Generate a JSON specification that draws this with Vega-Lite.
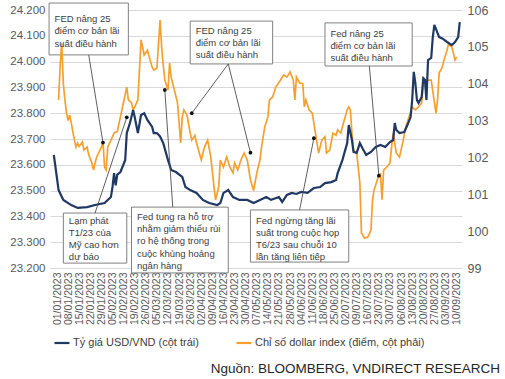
{
  "$schema": "https://vega.github.io/schema/vega-lite/v6.json",
  "width": 412,
  "height": 258,
  "autosize": {"type": "none"},
  "padding": {"left": 50, "top": 10, "right": 43, "bottom": 111},
  "config": {
    "view": {"stroke": null},
    "font": "Liberation Sans",
    "legend": {"padding": 0},
    "axisX": {"labelAngle": 270, "grid": false, "ticks": false, "domain": true, "domainColor": "#d9d9d9", "labelFontSize": 10.5, "labelColor": "#595959", "labelPadding": 4, "labelOverlap": false, "labelFlush": false, "labelFont": "Liberation Sans", "title": null}
  },
  "title": {
    "text": "Nguồn:  BLOOMBERG, VNDIRECT RESEARCH",
    "orient": "bottom",
    "anchor": "end",
    "frame": "group",
    "fontSize": 13.5,
    "fontWeight": "normal",
    "font": "Liberation Sans",
    "color": "#262626",
    "offset": 14,
    "dx": 38
  },
  "datasets": {
    "vnd": [
      {"date": "2022-12-30", "usd_vnd": 23638},
      {"date": "2023-01-02", "usd_vnd": 23502},
      {"date": "2023-01-05", "usd_vnd": 23464},
      {"date": "2023-01-10", "usd_vnd": 23444},
      {"date": "2023-01-14", "usd_vnd": 23433},
      {"date": "2023-01-20", "usd_vnd": 23436},
      {"date": "2023-01-25", "usd_vnd": 23444},
      {"date": "2023-01-31", "usd_vnd": 23452},
      {"date": "2023-02-04", "usd_vnd": 23475},
      {"date": "2023-02-05", "usd_vnd": 23514},
      {"date": "2023-02-06", "usd_vnd": 23568},
      {"date": "2023-02-07", "usd_vnd": 23520},
      {"date": "2023-02-08", "usd_vnd": 23562},
      {"date": "2023-02-10", "usd_vnd": 23572},
      {"date": "2023-02-13", "usd_vnd": 23618},
      {"date": "2023-02-14", "usd_vnd": 23723},
      {"date": "2023-02-16", "usd_vnd": 23762},
      {"date": "2023-02-18", "usd_vnd": 23812},
      {"date": "2023-02-19", "usd_vnd": 23785},
      {"date": "2023-02-21", "usd_vnd": 23723},
      {"date": "2023-02-23", "usd_vnd": 23793},
      {"date": "2023-02-25", "usd_vnd": 23800},
      {"date": "2023-02-27", "usd_vnd": 23774},
      {"date": "2023-03-02", "usd_vnd": 23747},
      {"date": "2023-03-03", "usd_vnd": 23723},
      {"date": "2023-03-05", "usd_vnd": 23723},
      {"date": "2023-03-07", "usd_vnd": 23710},
      {"date": "2023-03-09", "usd_vnd": 23684},
      {"date": "2023-03-12", "usd_vnd": 23618},
      {"date": "2023-03-14", "usd_vnd": 23580},
      {"date": "2023-03-17", "usd_vnd": 23572},
      {"date": "2023-03-21", "usd_vnd": 23553},
      {"date": "2023-03-23", "usd_vnd": 23514},
      {"date": "2023-03-26", "usd_vnd": 23502},
      {"date": "2023-03-30", "usd_vnd": 23491},
      {"date": "2023-04-03", "usd_vnd": 23464},
      {"date": "2023-04-07", "usd_vnd": 23452},
      {"date": "2023-04-12", "usd_vnd": 23444},
      {"date": "2023-04-14", "usd_vnd": 23452},
      {"date": "2023-04-16", "usd_vnd": 23491},
      {"date": "2023-04-19", "usd_vnd": 23502},
      {"date": "2023-04-22", "usd_vnd": 23475},
      {"date": "2023-04-26", "usd_vnd": 23464},
      {"date": "2023-05-01", "usd_vnd": 23464},
      {"date": "2023-05-05", "usd_vnd": 23452},
      {"date": "2023-05-09", "usd_vnd": 23464},
      {"date": "2023-05-13", "usd_vnd": 23475},
      {"date": "2023-05-16", "usd_vnd": 23464},
      {"date": "2023-05-21", "usd_vnd": 23475},
      {"date": "2023-05-23", "usd_vnd": 23456},
      {"date": "2023-05-26", "usd_vnd": 23483},
      {"date": "2023-05-29", "usd_vnd": 23491},
      {"date": "2023-06-01", "usd_vnd": 23487},
      {"date": "2023-06-04", "usd_vnd": 23495},
      {"date": "2023-06-08", "usd_vnd": 23491},
      {"date": "2023-06-12", "usd_vnd": 23510},
      {"date": "2023-06-16", "usd_vnd": 23514},
      {"date": "2023-06-19", "usd_vnd": 23529},
      {"date": "2023-06-23", "usd_vnd": 23533},
      {"date": "2023-06-26", "usd_vnd": 23541},
      {"date": "2023-06-27", "usd_vnd": 23568},
      {"date": "2023-06-30", "usd_vnd": 23618},
      {"date": "2023-07-03", "usd_vnd": 23684},
      {"date": "2023-07-04", "usd_vnd": 23754},
      {"date": "2023-07-06", "usd_vnd": 23696},
      {"date": "2023-07-07", "usd_vnd": 23650},
      {"date": "2023-07-09", "usd_vnd": 23646},
      {"date": "2023-07-11", "usd_vnd": 23684},
      {"date": "2023-07-13", "usd_vnd": 23660},
      {"date": "2023-07-15", "usd_vnd": 23638},
      {"date": "2023-07-18", "usd_vnd": 23650},
      {"date": "2023-07-21", "usd_vnd": 23669},
      {"date": "2023-07-24", "usd_vnd": 23677},
      {"date": "2023-07-27", "usd_vnd": 23669},
      {"date": "2023-07-30", "usd_vnd": 23688},
      {"date": "2023-08-01", "usd_vnd": 23696},
      {"date": "2023-08-02", "usd_vnd": 23762},
      {"date": "2023-08-03", "usd_vnd": 23735},
      {"date": "2023-08-05", "usd_vnd": 23723},
      {"date": "2023-08-08", "usd_vnd": 23727},
      {"date": "2023-08-10", "usd_vnd": 23754},
      {"date": "2023-08-12", "usd_vnd": 23785},
      {"date": "2023-08-13", "usd_vnd": 23851},
      {"date": "2023-08-14", "usd_vnd": 23960},
      {"date": "2023-08-15", "usd_vnd": 23917},
      {"date": "2023-08-16", "usd_vnd": 23851},
      {"date": "2023-08-17", "usd_vnd": 23840},
      {"date": "2023-08-19", "usd_vnd": 23863},
      {"date": "2023-08-20", "usd_vnd": 23936},
      {"date": "2023-08-21", "usd_vnd": 23930},
      {"date": "2023-08-22", "usd_vnd": 23851},
      {"date": "2023-08-23", "usd_vnd": 24006},
      {"date": "2023-08-25", "usd_vnd": 24014},
      {"date": "2023-08-26", "usd_vnd": 24095},
      {"date": "2023-08-27", "usd_vnd": 24142},
      {"date": "2023-08-30", "usd_vnd": 24095},
      {"date": "2023-09-01", "usd_vnd": 24090},
      {"date": "2023-09-04", "usd_vnd": 24076},
      {"date": "2023-09-07", "usd_vnd": 24064},
      {"date": "2023-09-09", "usd_vnd": 24076},
      {"date": "2023-09-11", "usd_vnd": 24095},
      {"date": "2023-09-12", "usd_vnd": 24153}
    ],
    "dxy": [
      {"date": "2023-01-02", "dxy": 103.56},
      {"date": "2023-01-03", "dxy": 104.5},
      {"date": "2023-01-04", "dxy": 105.1},
      {"date": "2023-01-05", "dxy": 104.0},
      {"date": "2023-01-06", "dxy": 103.56},
      {"date": "2023-01-07", "dxy": 103.2},
      {"date": "2023-01-08", "dxy": 103.0},
      {"date": "2023-01-09", "dxy": 103.15},
      {"date": "2023-01-10", "dxy": 102.93},
      {"date": "2023-01-12", "dxy": 102.47},
      {"date": "2023-01-13", "dxy": 102.28},
      {"date": "2023-01-14", "dxy": 102.39},
      {"date": "2023-01-15", "dxy": 102.3},
      {"date": "2023-01-17", "dxy": 102.42},
      {"date": "2023-01-18", "dxy": 102.2},
      {"date": "2023-01-20", "dxy": 102.28},
      {"date": "2023-01-21", "dxy": 102.07},
      {"date": "2023-01-23", "dxy": 101.85},
      {"date": "2023-01-24", "dxy": 101.66},
      {"date": "2023-01-25", "dxy": 101.85},
      {"date": "2023-01-26", "dxy": 102.01},
      {"date": "2023-01-27", "dxy": 102.1},
      {"date": "2023-01-29", "dxy": 102.28},
      {"date": "2023-01-30", "dxy": 102.42},
      {"date": "2023-01-31", "dxy": 101.74},
      {"date": "2023-02-01", "dxy": 101.66},
      {"date": "2023-02-02", "dxy": 102.28},
      {"date": "2023-02-04", "dxy": 102.47},
      {"date": "2023-02-06", "dxy": 102.66},
      {"date": "2023-02-08", "dxy": 102.7},
      {"date": "2023-02-10", "dxy": 103.1},
      {"date": "2023-02-14", "dxy": 103.91},
      {"date": "2023-02-15", "dxy": 103.56},
      {"date": "2023-02-17", "dxy": 103.48},
      {"date": "2023-02-18", "dxy": 103.29},
      {"date": "2023-02-19", "dxy": 103.37},
      {"date": "2023-02-21", "dxy": 103.56},
      {"date": "2023-02-22", "dxy": 104.37},
      {"date": "2023-02-23", "dxy": 105.19},
      {"date": "2023-02-25", "dxy": 104.78},
      {"date": "2023-02-27", "dxy": 104.91},
      {"date": "2023-03-02", "dxy": 104.45},
      {"date": "2023-03-03", "dxy": 104.37},
      {"date": "2023-03-05", "dxy": 104.42},
      {"date": "2023-03-07", "dxy": 105.73},
      {"date": "2023-03-08", "dxy": 105.0},
      {"date": "2023-03-09", "dxy": 104.5},
      {"date": "2023-03-10", "dxy": 104.1},
      {"date": "2023-03-12", "dxy": 103.83},
      {"date": "2023-03-13", "dxy": 104.56},
      {"date": "2023-03-14", "dxy": 104.18},
      {"date": "2023-03-16", "dxy": 103.83},
      {"date": "2023-03-18", "dxy": 103.48},
      {"date": "2023-03-20", "dxy": 102.39},
      {"date": "2023-03-21", "dxy": 103.1},
      {"date": "2023-03-22", "dxy": 103.29},
      {"date": "2023-03-24", "dxy": 103.15},
      {"date": "2023-03-26", "dxy": 102.66},
      {"date": "2023-03-27", "dxy": 102.47},
      {"date": "2023-03-29", "dxy": 102.6},
      {"date": "2023-03-30", "dxy": 102.39},
      {"date": "2023-04-02", "dxy": 101.93},
      {"date": "2023-04-04", "dxy": 102.28},
      {"date": "2023-04-06", "dxy": 102.47},
      {"date": "2023-04-08", "dxy": 102.01},
      {"date": "2023-04-09", "dxy": 101.6},
      {"date": "2023-04-10", "dxy": 101.2},
      {"date": "2023-04-11", "dxy": 100.85},
      {"date": "2023-04-13", "dxy": 101.2},
      {"date": "2023-04-14", "dxy": 101.93},
      {"date": "2023-04-16", "dxy": 101.74},
      {"date": "2023-04-18", "dxy": 102.01},
      {"date": "2023-04-20", "dxy": 101.74},
      {"date": "2023-04-22", "dxy": 101.58},
      {"date": "2023-04-23", "dxy": 101.85},
      {"date": "2023-04-25", "dxy": 101.66},
      {"date": "2023-04-27", "dxy": 101.93},
      {"date": "2023-04-29", "dxy": 102.12},
      {"date": "2023-05-01", "dxy": 101.93},
      {"date": "2023-05-03", "dxy": 101.39},
      {"date": "2023-05-05", "dxy": 101.1},
      {"date": "2023-05-07", "dxy": 101.58},
      {"date": "2023-05-09", "dxy": 101.93},
      {"date": "2023-05-10", "dxy": 102.28},
      {"date": "2023-05-12", "dxy": 102.83},
      {"date": "2023-05-14", "dxy": 103.1},
      {"date": "2023-05-15", "dxy": 103.56},
      {"date": "2023-05-17", "dxy": 103.64},
      {"date": "2023-05-19", "dxy": 103.91},
      {"date": "2023-05-22", "dxy": 104.1},
      {"date": "2023-05-24", "dxy": 104.24},
      {"date": "2023-05-26", "dxy": 104.18},
      {"date": "2023-05-28", "dxy": 104.32},
      {"date": "2023-05-30", "dxy": 104.1},
      {"date": "2023-05-31", "dxy": 103.56},
      {"date": "2023-06-01", "dxy": 104.18},
      {"date": "2023-06-03", "dxy": 104.02},
      {"date": "2023-06-05", "dxy": 104.0},
      {"date": "2023-06-06", "dxy": 103.37},
      {"date": "2023-06-07", "dxy": 103.56},
      {"date": "2023-06-09", "dxy": 103.29},
      {"date": "2023-06-11", "dxy": 103.2},
      {"date": "2023-06-14", "dxy": 102.39},
      {"date": "2023-06-15", "dxy": 102.12},
      {"date": "2023-06-17", "dxy": 102.47},
      {"date": "2023-06-19", "dxy": 102.56},
      {"date": "2023-06-20", "dxy": 102.12},
      {"date": "2023-06-22", "dxy": 102.2},
      {"date": "2023-06-24", "dxy": 102.66},
      {"date": "2023-06-26", "dxy": 102.6},
      {"date": "2023-06-27", "dxy": 102.75},
      {"date": "2023-06-29", "dxy": 102.66},
      {"date": "2023-06-30", "dxy": 102.83},
      {"date": "2023-07-03", "dxy": 103.29},
      {"date": "2023-07-04", "dxy": 103.37},
      {"date": "2023-07-05", "dxy": 103.29},
      {"date": "2023-07-06", "dxy": 102.66},
      {"date": "2023-07-07", "dxy": 102.2},
      {"date": "2023-07-09", "dxy": 102.12},
      {"date": "2023-07-11", "dxy": 101.31},
      {"date": "2023-07-12", "dxy": 99.95},
      {"date": "2023-07-14", "dxy": 99.81},
      {"date": "2023-07-16", "dxy": 99.84},
      {"date": "2023-07-18", "dxy": 100.03},
      {"date": "2023-07-19", "dxy": 100.85},
      {"date": "2023-07-20", "dxy": 101.12},
      {"date": "2023-07-22", "dxy": 101.39},
      {"date": "2023-07-23", "dxy": 101.52},
      {"date": "2023-07-24", "dxy": 101.55},
      {"date": "2023-07-25", "dxy": 100.85},
      {"date": "2023-07-26", "dxy": 101.66},
      {"date": "2023-07-28", "dxy": 101.74},
      {"date": "2023-07-30", "dxy": 101.85},
      {"date": "2023-07-31", "dxy": 102.28},
      {"date": "2023-08-01", "dxy": 102.66},
      {"date": "2023-08-02", "dxy": 102.39},
      {"date": "2023-08-03", "dxy": 102.12},
      {"date": "2023-08-05", "dxy": 102.01},
      {"date": "2023-08-07", "dxy": 102.39},
      {"date": "2023-08-09", "dxy": 102.83},
      {"date": "2023-08-11", "dxy": 103.1},
      {"date": "2023-08-13", "dxy": 103.37},
      {"date": "2023-08-15", "dxy": 103.29},
      {"date": "2023-08-17", "dxy": 103.37},
      {"date": "2023-08-19", "dxy": 103.48},
      {"date": "2023-08-20", "dxy": 104.02},
      {"date": "2023-08-21", "dxy": 104.1},
      {"date": "2023-08-23", "dxy": 104.1},
      {"date": "2023-08-25", "dxy": 104.1},
      {"date": "2023-08-28", "dxy": 103.2},
      {"date": "2023-08-29", "dxy": 103.56},
      {"date": "2023-08-30", "dxy": 104.29},
      {"date": "2023-09-01", "dxy": 104.45},
      {"date": "2023-09-02", "dxy": 104.64},
      {"date": "2023-09-04", "dxy": 104.91},
      {"date": "2023-09-05", "dxy": 105.1},
      {"date": "2023-09-07", "dxy": 104.99},
      {"date": "2023-09-08", "dxy": 104.83},
      {"date": "2023-09-09", "dxy": 104.64},
      {"date": "2023-09-10", "dxy": 104.72}
    ],
    "boxes": [
      {"x1": "2022-12-27", "x2": "2023-02-15", "y1": 24227, "y2": 24026, "ty": 24184, "label": "FED nâng 25\nđiểm cơ bản lãi\nsuất điều hành"},
      {"x1": "2023-03-26", "x2": "2023-05-17", "y1": 24157, "y2": 23991, "ty": 24138, "label": "FED nâng 25\nđiểm cơ bản lãi\nsuất điều hành"},
      {"x1": "2023-06-19", "x2": "2023-08-13", "y1": 24150, "y2": 23983, "ty": 24126, "label": "Fed nâng 25\nđiểm cơ bản lãi\nsuất điều hành"},
      {"x1": "2023-01-05", "x2": "2023-02-14", "y1": 23413, "y2": 23219, "ty": 23402, "label": "Lạm phát\nT1/23 của\nMỹ cao hơn\ndự báo"},
      {"x1": "2023-02-17", "x2": "2023-04-19", "y1": 23436, "y2": 23181, "ty": 23417, "label": "Fed tung ra hỗ trợ\nnhằm giảm thiểu rủi\nro hệ thống trong\ncuộc khủng hoảng\nngân hàng"},
      {"x1": "2023-05-03", "x2": "2023-07-04", "y1": 23425, "y2": 23223, "ty": 23402, "label": "Fed ngừng tăng lãi\nsuất trong cuộc họp\nT6/23 sau chuỗi 10\nlần tăng liên tiếp"}
    ],
    "arrows": [
      {"x1": "2023-01-21", "y1": 24026, "x2": "2023-01-30", "y2": 23686},
      {"x1": "2023-04-19", "y1": 23991, "x2": "2023-03-27", "y2": 23800},
      {"x1": "2023-04-19", "y1": 23991, "x2": "2023-05-03", "y2": 23647},
      {"x1": "2023-07-17", "y1": 23983, "x2": "2023-07-23", "y2": 23558},
      {"x1": "2023-01-25", "y1": 23413, "x2": "2023-02-14", "y2": 23784},
      {"x1": "2023-03-15", "y1": 23436, "x2": "2023-03-10", "y2": 23890},
      {"x1": "2023-06-03", "y1": 23425, "x2": "2023-06-12", "y2": 23703}
    ]
  },
  "layer": [
    {
      "data": {"name": "boxes"},
      "mark": {"type": "rect", "fill": "white", "stroke": "#808080", "strokeWidth": 1},
      "encoding": {
        "x": {"field": "x1", "type": "temporal",
              "scale": {"type": "utc", "nice": false, "domain": [1672149600000, 1694599200000]},
              "axis": {"title": null, "orient": "bottom", "labelExpr": "utcFormat(datum.value, '%d/%m/%Y')",
                       "values": [1672531200000, 1673136000000, 1673740800000, 1674345600000, 1674950400000, 1675555200000, 1676160000000, 1676764800000, 1677369600000, 1677974400000, 1678579200000, 1679184000000, 1679788800000, 1680393600000, 1680998400000, 1681603200000, 1682208000000, 1682812800000, 1683417600000, 1684022400000, 1684627200000, 1685232000000, 1685836800000, 1686441600000, 1687046400000, 1687651200000, 1688256000000, 1688860800000, 1689465600000, 1690070400000, 1690675200000, 1691280000000, 1691884800000, 1692489600000, 1693094400000, 1693699200000, 1694304000000]}},
        "x2": {"field": "x2"},
        "y": {"field": "y1", "type": "quantitative", "axis": null, "scale": {"domain": [23200, 24200], "nice": false, "zero": false}},
        "y2": {"field": "y2"}
      }
    },
    {
      "data": {"name": "dxy"},
      "mark": {"type": "line", "strokeWidth": 1.7},
      "encoding": {
        "x": {"field": "date", "type": "temporal",
              "scale": {"type": "utc", "nice": false, "domain": [1672149600000, 1694599200000]},
              "axis": {"title": null, "orient": "bottom", "labelExpr": "utcFormat(datum.value, '%d/%m/%Y')",
                       "values": [1672531200000, 1673136000000, 1673740800000, 1674345600000, 1674950400000, 1675555200000, 1676160000000, 1676764800000, 1677369600000, 1677974400000, 1678579200000, 1679184000000, 1679788800000, 1680393600000, 1680998400000, 1681603200000, 1682208000000, 1682812800000, 1683417600000, 1684022400000, 1684627200000, 1685232000000, 1685836800000, 1686441600000, 1687046400000, 1687651200000, 1688256000000, 1688860800000, 1689465600000, 1690070400000, 1690675200000, 1691280000000, 1691884800000, 1692489600000, 1693094400000, 1693699200000, 1694304000000]}},
        "y": {"field": "dxy", "type": "quantitative",
              "scale": {"domain": [99, 106], "nice": false, "zero": false},
              "axis": {"orient": "right", "title": null, "values": [99, 100, 101, 102, 103, 104, 105, 106], "grid": false, "domain": false, "ticks": false, "labelFontSize": 12.5, "labelColor": "#595959", "labelPadding": 5, "labelFont": "Liberation Sans"}},
        "color": {"datum": "Chỉ số dollar index (điểm, cột phải)", "type": "nominal",
                  "scale": {"domain": ["Tỷ giá USD/VND (cột trái)", "Chỉ số dollar index (điểm, cột phải)"], "range": ["#1f3864", "#f5a02e"]},
                  "legend": {"title": null, "orient": "none", "legendX": 3, "legendY": 324, "direction": "horizontal", "symbolType": "stroke", "symbolSize": 225, "symbolStrokeWidth": 2.2, "labelFontSize": 11, "labelColor": "#404040", "labelFont": "Liberation Sans", "columnPadding": 33, "labelLimit": 400, "labelOffset": 2}}
      }
    },
    {
      "data": {"name": "vnd"},
      "mark": {"type": "line", "strokeWidth": 2.2},
      "encoding": {
        "x": {"field": "date", "type": "temporal",
              "scale": {"type": "utc", "nice": false, "domain": [1672149600000, 1694599200000]},
              "axis": {"title": null, "orient": "bottom", "labelExpr": "utcFormat(datum.value, '%d/%m/%Y')",
                       "values": [1672531200000, 1673136000000, 1673740800000, 1674345600000, 1674950400000, 1675555200000, 1676160000000, 1676764800000, 1677369600000, 1677974400000, 1678579200000, 1679184000000, 1679788800000, 1680393600000, 1680998400000, 1681603200000, 1682208000000, 1682812800000, 1683417600000, 1684022400000, 1684627200000, 1685232000000, 1685836800000, 1686441600000, 1687046400000, 1687651200000, 1688256000000, 1688860800000, 1689465600000, 1690070400000, 1690675200000, 1691280000000, 1691884800000, 1692489600000, 1693094400000, 1693699200000, 1694304000000]}},
        "y": {"field": "usd_vnd", "type": "quantitative",
              "scale": {"domain": [23200, 24200], "nice": false, "zero": false},
              "axis": {"orient": "left", "title": null, "values": [23200, 23300, 23400, 23500, 23600, 23700, 23800, 23900, 24000, 24100, 24200], "labelExpr": "replace(format(datum.value, ','), ',', '.')", "grid": true, "gridColor": "#d9d9d9", "domain": false, "ticks": false, "labelFontSize": 11.5, "labelColor": "#595959", "labelPadding": 5, "labelFont": "Liberation Sans"}},
        "color": {"datum": "Tỷ giá USD/VND (cột trái)", "type": "nominal",
                  "scale": {"domain": ["Tỷ giá USD/VND (cột trái)", "Chỉ số dollar index (điểm, cột phải)"], "range": ["#1f3864", "#f5a02e"]},
                  "legend": {"title": null, "orient": "none", "legendX": 3, "legendY": 324, "direction": "horizontal", "symbolType": "stroke", "symbolSize": 225, "symbolStrokeWidth": 2.2, "labelFontSize": 11, "labelColor": "#404040", "labelFont": "Liberation Sans", "columnPadding": 33, "labelLimit": 400, "labelOffset": 2}}
      }
    },
    {
      "data": {"name": "arrows"},
      "mark": {"type": "rule", "stroke": "#4d4d4d", "strokeWidth": 0.9},
      "encoding": {
        "x": {"field": "x1", "type": "temporal",
              "scale": {"type": "utc", "nice": false, "domain": [1672149600000, 1694599200000]},
              "axis": {"title": null, "orient": "bottom", "labelExpr": "utcFormat(datum.value, '%d/%m/%Y')",
                       "values": [1672531200000, 1673136000000, 1673740800000, 1674345600000, 1674950400000, 1675555200000, 1676160000000, 1676764800000, 1677369600000, 1677974400000, 1678579200000, 1679184000000, 1679788800000, 1680393600000, 1680998400000, 1681603200000, 1682208000000, 1682812800000, 1683417600000, 1684022400000, 1684627200000, 1685232000000, 1685836800000, 1686441600000, 1687046400000, 1687651200000, 1688256000000, 1688860800000, 1689465600000, 1690070400000, 1690675200000, 1691280000000, 1691884800000, 1692489600000, 1693094400000, 1693699200000, 1694304000000]}},
        "x2": {"field": "x2"},
        "y": {"field": "y1", "type": "quantitative", "axis": null, "scale": {"domain": [23200, 24200], "nice": false, "zero": false}},
        "y2": {"field": "y2"}
      }
    },
    {
      "data": {"name": "arrows"},
      "mark": {"type": "point", "filled": true, "size": 14, "color": "#111111", "opacity": 1},
      "encoding": {
        "x": {"field": "x2", "type": "temporal",
              "scale": {"type": "utc", "nice": false, "domain": [1672149600000, 1694599200000]},
              "axis": {"title": null, "orient": "bottom", "labelExpr": "utcFormat(datum.value, '%d/%m/%Y')",
                       "values": [1672531200000, 1673136000000, 1673740800000, 1674345600000, 1674950400000, 1675555200000, 1676160000000, 1676764800000, 1677369600000, 1677974400000, 1678579200000, 1679184000000, 1679788800000, 1680393600000, 1680998400000, 1681603200000, 1682208000000, 1682812800000, 1683417600000, 1684022400000, 1684627200000, 1685232000000, 1685836800000, 1686441600000, 1687046400000, 1687651200000, 1688256000000, 1688860800000, 1689465600000, 1690070400000, 1690675200000, 1691280000000, 1691884800000, 1692489600000, 1693094400000, 1693699200000, 1694304000000]}},
        "y": {"field": "y2", "type": "quantitative", "axis": null, "scale": {"domain": [23200, 24200], "nice": false, "zero": false}}
      }
    },
    {
      "data": {"name": "boxes"},
      "mark": {"type": "text", "align": "left", "baseline": "top", "dx": 5.5, "fontSize": 9.5, "lineHeight": 12.2, "lineBreak": "\n", "fill": "#404040", "font": "Liberation Sans"},
      "encoding": {
        "x": {"field": "x1", "type": "temporal",
              "scale": {"type": "utc", "nice": false, "domain": [1672149600000, 1694599200000]},
              "axis": {"title": null, "orient": "bottom", "labelExpr": "utcFormat(datum.value, '%d/%m/%Y')",
                       "values": [1672531200000, 1673136000000, 1673740800000, 1674345600000, 1674950400000, 1675555200000, 1676160000000, 1676764800000, 1677369600000, 1677974400000, 1678579200000, 1679184000000, 1679788800000, 1680393600000, 1680998400000, 1681603200000, 1682208000000, 1682812800000, 1683417600000, 1684022400000, 1684627200000, 1685232000000, 1685836800000, 1686441600000, 1687046400000, 1687651200000, 1688256000000, 1688860800000, 1689465600000, 1690070400000, 1690675200000, 1691280000000, 1691884800000, 1692489600000, 1693094400000, 1693699200000, 1694304000000]}},
        "y": {"field": "ty", "type": "quantitative", "axis": null, "scale": {"domain": [23200, 24200], "nice": false, "zero": false}},
        "text": {"field": "label"}
      }
    }
  ],
  "resolve": {"scale": {"y": "independent"}}
}
